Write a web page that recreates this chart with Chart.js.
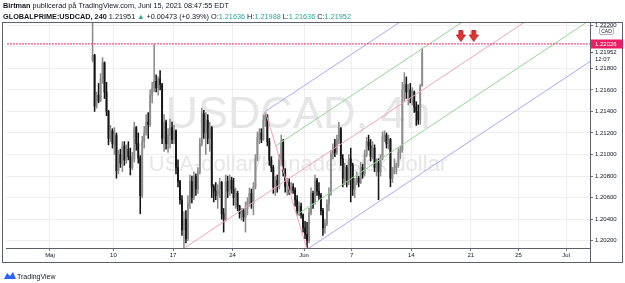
<!DOCTYPE html>
<html><head><meta charset="utf-8">
<script src="https://cdn.jsdelivr.net/npm/chart.js@4/dist/chart.umd.min.js"></script>
<style>html,body{margin:0;padding:0;background:#fff;}canvas{display:block;}</style>
</head><body>
<canvas id="c" width="625" height="283"></canvas>
<script>
// ---- DATA (USDCAD, 4h candles) ----
const opens=[1.2188,1.2192,1.2145,1.2155,1.2150,1.2170,1.2185,1.2158,1.2140,1.2115,
1.2122,1.2110,1.2118,1.2085,1.2100,1.2092,1.2108,1.2095,1.2105,1.2098,
1.2088,1.2096,1.2125,1.2110,1.2097,1.2062,1.2112,1.2120,1.2130,1.2128,
1.2155,1.2162,1.2168,1.2162,1.2170,1.2165,1.2115,1.2130,1.2110,1.2118,
1.2125,1.2114,1.2122,1.2088,1.2075,1.2058,1.2030,1.2040,1.2022,1.2055,
1.2075,1.2060,1.2080,1.2068,1.2084,1.2110,1.2138,1.2120,1.2132,1.2115,
1.2125,1.2070,1.2066,1.2062,1.2068,1.2074,1.2045,1.2040,1.2075,1.2066,
1.2076,1.2068,1.2060,1.2064,1.2052,1.2045,1.2048,1.2042,1.2050,1.2056,
1.2064,1.2055,1.2070,1.2096,1.2116,1.2120,1.2114,1.2132,1.2136,1.2112,
1.2095,1.2088,1.2070,1.2076,1.2070,1.2096,1.2112,1.2084,1.2070,1.2074,
1.2066,1.2070,1.2067,1.2058,1.2048,1.2052,1.2044,1.2032,1.2026,1.2020,
1.2046,1.2064,1.2055,1.2076,1.2066,1.2062,1.2048,1.2032,1.2036,1.2054,
1.2064,1.2100,1.2106,1.2102,1.2114,1.2124,1.2096,1.2078,1.2088,1.2075,
1.2096,1.2090,1.2068,1.2074,1.2078,1.2074,1.2088,1.2082,1.2100,1.2112,
1.2108,1.2098,1.2106,1.2088,1.2092,1.2084,1.2096,1.2116,1.2118,1.2110,
1.2114,1.2078,1.2084,1.2088,1.2090,1.2102,1.2104,1.2160,1.2165,1.2158,
1.2160,1.2152,1.2158,1.2144,1.2140,1.2132,1.21636];
const highs=[1.2240,1.2193,1.2158,1.2166,1.2175,1.2190,1.2186,1.2167,1.2141,1.2127,
1.2124,1.2125,1.2120,1.2104,1.2105,1.2112,1.2112,1.2109,1.2112,1.2106,
1.2102,1.2130,1.2126,1.2120,1.2099,1.2117,1.2126,1.2137,1.2139,1.2160,
1.2167,1.2202,1.2174,1.2172,1.2178,1.2166,1.2137,1.2132,1.2124,1.2133,
1.2130,1.2127,1.2123,1.2095,1.2076,1.2062,1.2047,1.2048,1.2062,1.2081,
1.2080,1.2084,1.2082,1.2088,1.2115,1.2143,1.2141,1.2139,1.2137,1.2130,
1.2126,1.2072,1.2074,1.2072,1.2078,1.2075,1.2050,1.2081,1.2080,1.2081,
1.2079,1.2078,1.2069,1.2066,1.2053,1.2050,1.2050,1.2056,1.2060,1.2069,
1.2068,1.2074,1.2100,1.2121,1.2124,1.2124,1.2137,1.2139,1.2137,1.2115,
1.2098,1.2090,1.2080,1.2081,1.2100,1.2118,1.2114,1.2087,1.2078,1.2078,
1.2074,1.2073,1.2069,1.2062,1.2056,1.2055,1.2045,1.2038,1.2037,1.2050,
1.2069,1.2066,1.2081,1.2078,1.2074,1.2064,1.2050,1.2040,1.2058,1.2069,
1.2104,1.2110,1.2114,1.2118,1.2130,1.2125,1.2100,1.2092,1.2090,1.2100,
1.2106,1.2092,1.2078,1.2084,1.2080,1.2093,1.2091,1.2104,1.2116,1.2118,
1.2114,1.2112,1.2109,1.2096,1.2096,1.2100,1.2121,1.2122,1.2120,1.2118,
1.2115,1.2088,1.2096,1.2092,1.2106,1.2108,1.2167,1.2176,1.2172,1.2165,
1.2166,1.2162,1.2159,1.2149,1.2146,1.2165,1.21988];
const lows=[1.2186,1.2140,1.2143,1.2148,1.2149,1.2166,1.2152,1.2136,1.2109,1.2112,
1.2106,1.2100,1.2078,1.2082,1.2088,1.2084,1.2090,1.2092,1.2095,1.2081,
1.2086,1.2093,1.2104,1.2092,1.2045,1.2060,1.2106,1.2118,1.2115,1.2126,
1.2148,1.2158,1.2158,1.2155,1.2160,1.2110,1.2103,1.2105,1.2102,1.2106,
1.2110,1.2110,1.2082,1.2070,1.2054,1.2025,1.2013,1.2018,1.2020,1.2050,
1.2055,1.2058,1.2062,1.2064,1.2082,1.2108,1.2115,1.2100,1.2110,1.2103,
1.2060,1.2056,1.2058,1.2050,1.2060,1.2040,1.2028,1.2038,1.2060,1.2062,
1.2064,1.2053,1.2050,1.2048,1.2041,1.2039,1.2038,1.2028,1.2044,1.2052,
1.2050,1.2044,1.2068,1.2094,1.2110,1.2111,1.2113,1.2126,1.2108,1.2090,
1.2084,1.2064,1.2062,1.2065,1.2068,1.2090,1.2080,1.2065,1.2062,1.2063,
1.2064,1.2064,1.2052,1.2044,1.2043,1.2041,1.2028,1.2022,1.2007,1.2018,
1.2044,1.2050,1.2054,1.2062,1.2058,1.2044,1.2025,1.2027,1.2034,1.2048,
1.2062,1.2096,1.2098,1.2100,1.2110,1.2090,1.2070,1.2072,1.2070,1.2072,
1.2056,1.2062,1.2060,1.2072,1.2070,1.2073,1.2078,1.2080,1.2098,1.2104,
1.2094,1.2096,1.2084,1.2080,1.2058,1.2080,1.2095,1.2112,1.2106,1.2105,
1.2070,1.2074,1.2082,1.2082,1.2088,1.2096,1.2102,1.2150,1.2152,1.2146,
1.2148,1.2146,1.2139,1.2127,1.2128,1.2128,1.21636];
const closes=[1.2192,1.2145,1.2155,1.2150,1.2170,1.2185,1.2158,1.2140,1.2115,1.2122,
1.2110,1.2118,1.2085,1.2100,1.2092,1.2108,1.2095,1.2105,1.2098,1.2088,
1.2096,1.2125,1.2110,1.2097,1.2062,1.2112,1.2120,1.2130,1.2128,1.2155,
1.2162,1.2168,1.2162,1.2170,1.2165,1.2115,1.2130,1.2110,1.2118,1.2125,
1.2114,1.2122,1.2088,1.2075,1.2058,1.2030,1.2040,1.2022,1.2055,1.2075,
1.2060,1.2080,1.2068,1.2084,1.2110,1.2138,1.2120,1.2132,1.2115,1.2125,
1.2070,1.2066,1.2062,1.2068,1.2074,1.2045,1.2040,1.2075,1.2066,1.2076,
1.2068,1.2060,1.2064,1.2052,1.2045,1.2048,1.2042,1.2050,1.2056,1.2064,
1.2055,1.2070,1.2096,1.2116,1.2120,1.2114,1.2132,1.2136,1.2112,1.2095,
1.2088,1.2070,1.2076,1.2070,1.2096,1.2112,1.2084,1.2070,1.2074,1.2066,
1.2070,1.2067,1.2058,1.2048,1.2052,1.2044,1.2032,1.2026,1.2020,1.2046,
1.2064,1.2055,1.2076,1.2066,1.2062,1.2048,1.2032,1.2036,1.2054,1.2064,
1.2100,1.2106,1.2102,1.2114,1.2124,1.2096,1.2078,1.2088,1.2075,1.2096,
1.2090,1.2068,1.2074,1.2078,1.2074,1.2088,1.2082,1.2100,1.2112,1.2108,
1.2098,1.2106,1.2088,1.2092,1.2084,1.2096,1.2116,1.2118,1.2110,1.2114,
1.2078,1.2084,1.2088,1.2090,1.2102,1.2104,1.2160,1.2165,1.2158,1.2160,
1.2152,1.2158,1.2144,1.2140,1.2132,1.21636,1.21952];
const firstBarDay=-1.75;          // trading days relative to 10 May (first visible bar)
const barsPerDay=6;               // 4h bars
const dateTickDays=[-5.33,0,5,10,16,20,25,30,34,38];
const dateTickLabels=['Maj','10','17','24','Jun','7','14','21','25','Jul'];
const priceTicks=[1.202,1.204,1.206,1.208,1.210,1.212,1.214,1.216,1.218,1.220,1.222];
const hLinePrice=1.22026;
const lastPrice=1.21952;
const pitchforkBars=[46,87,108];
const pitchforkPrices=[1.2013,1.2140,1.2012];
const arrowDays=[29.16,30.24];
const arrowPrices=[1.2210,1.2210];

// ---- build ----
const FAM='"Liberation Sans", Arial, sans-serif';
const dayOf=i=>firstBarDay+i/barsPerDay;
const up=opens.map((o,i)=>closes[i]>=o);
const candleCol=up.map(u=>u?'#8c8c8c':'#151515');
const wickData=opens.map((o,i)=>({x:dayOf(i),y:[lows[i],highs[i]]}));
const bodyData=opens.map((o,i)=>({x:dayOf(i),y:[Math.min(o,closes[i]),Math.max(o,closes[i])]}));

const A={x:dayOf(pitchforkBars[0]),y:pitchforkPrices[0]};
const B={x:dayOf(pitchforkBars[1]),y:pitchforkPrices[1]};
const C={x:dayOf(pitchforkBars[2]),y:pitchforkPrices[2]};
const M={x:(B.x+C.x)/2,y:(B.y+C.y)/2};
const V={x:M.x-A.x,y:M.y-A.y};
const mid=(P,Q)=>({x:(P.x+Q.x)/2,y:(P.y+Q.y)/2});
const ext=P=>[P,{x:60,y:P.y+(60-P.x)/V.x*V.y}];
const lineDs=(data,color,extra)=>Object.assign({type:'line',data,borderColor:color,borderWidth:1,pointRadius:0,fill:false,order:1,tension:0},extra||{});

// arrow point style
const arrowImg=document.createElement('canvas');
arrowImg.width=10;arrowImg.height=12;
(function(){const g=arrowImg.getContext('2d');
 g.fillStyle='#e8322f';g.strokeStyle='#a01818';g.lineWidth=0.8;
 g.beginPath();g.moveTo(3,0.5);g.lineTo(7,0.5);g.lineTo(7,5);g.lineTo(9.5,5);g.lineTo(5,11.5);g.lineTo(0.5,5);g.lineTo(3,5);g.closePath();g.fill();g.stroke();})();

const yMin=1.201326, yMax=1.222206;

const deco={
 id:'deco',
 beforeDatasetsDraw(ch){
  const {ctx,chartArea:a}=ch;
  ctx.save();
  ctx.beginPath();ctx.rect(a.left,a.top,a.right-a.left,a.bottom-a.top);ctx.clip();
  const cx=(a.left+a.right)/2;
  ctx.fillStyle='#e6e6e6';ctx.textAlign='center';ctx.textBaseline='alphabetic';
  ctx.font='45px '+FAM;ctx.fillText('USDCAD, 4h',cx,128);
  ctx.font='22px '+FAM;ctx.fillText('USA-dollar/Kanadensisk dollar',cx,171);
  ctx.restore();
 },
 afterDraw(ch){
  const {ctx,chartArea:a,scales:{y}}=ch;
  ctx.save();
  // frame
  ctx.strokeStyle='#5d606b';ctx.lineWidth=1;
  ctx.strokeRect(2.5,22.5,620,240);
  ctx.beginPath();ctx.moveTo(a.right+0.5,a.bottom);ctx.lineTo(a.right+0.5,263);ctx.stroke();
  // header
  const seg=(parts,x,yb)=>{parts.forEach(p=>{ctx.font=(p[1]?'bold ':'')+'7.3px '+FAM;ctx.fillStyle=p[2];ctx.fillText(p[0],x,yb);x+=ctx.measureText(p[0]).width;});};
  ctx.textAlign='left';ctx.textBaseline='alphabetic';
  seg([['Birtman',1,'#131722'],[' publicerad på TradingView.com, Juni 15, 2021 08:47:55 EDT',0,'#131722']],3,8);
  const teal='#26a69a';
  seg([['GLOBALPRIME:USDCAD, 240',1,'#131722'],[' 1.21951 ',0,'#131722'],['▲',0,teal],[' +0.00473 (+0.39%) ',0,'#131722'],
       ['O:',0,'#131722'],['1.21636',0,teal],[' H:',0,'#131722'],['1.21988',0,teal],[' L:',0,'#131722'],['1.21636',0,teal],[' C:',0,'#131722'],['1.21952',0,teal]],3,18.5);
  // horizontal line price label
  const yh=y.getPixelForValue(hLinePrice);
  ctx.fillStyle='#e91e63';ctx.fillRect(a.right+1,Math.round(yh)-4.5,32,9);
  ctx.fillStyle='#fff';ctx.font='6px '+FAM;ctx.textBaseline='middle';
  ctx.fillText(hLinePrice.toFixed(5),a.right+5,Math.round(yh));
  // last price label
  const yl=Math.round(y.getPixelForValue(lastPrice))+0.5;
  ctx.strokeStyle='#555';ctx.beginPath();ctx.moveTo(a.right,yl);ctx.lineTo(a.right+3,yl);ctx.stroke();
  ctx.fillStyle='#131722';ctx.fillText(lastPrice.toFixed(5),a.right+5,yl);
  ctx.fillText('12:07',a.right+5,yl+7);
  // currency box
  ctx.fillStyle='#fff';ctx.strokeStyle='#b2b5be';
  ctx.beginPath();ctx.roundRect(599.5,27.5,14,7,1.5);ctx.fill();ctx.stroke();
  ctx.fillStyle='#131722';ctx.font='5px '+FAM;ctx.textAlign='center';ctx.fillText('CAD',606.5,31.2);
  // footer logo
  ctx.fillStyle='#2962ff';
  ctx.beginPath();ctx.moveTo(4,279);ctx.lineTo(7,273);ctx.lineTo(10,276);ctx.lineTo(13,272);ctx.lineTo(16,279);ctx.closePath();ctx.fill();
  ctx.fillStyle='#131722';ctx.font='7px '+FAM;ctx.textAlign='left';ctx.textBaseline='alphabetic';
  ctx.fillText('TradingView',17,279);
  ctx.restore();
 }
};

new Chart(document.getElementById('c'),{
 type:'bar',
 data:{datasets:[
  {type:'scatter',data:arrowDays.map((d,i)=>({x:d,y:arrowPrices[i]})),pointStyle:arrowImg,pointRadius:5,order:0},
  lineDs([{x:-20,y:hLinePrice},{x:60,y:hLinePrice}],'#e91e63',{borderDash:[1.5,1.5],borderWidth:1.3}),
  lineDs(ext(A),'#f3a2b8'),
  lineDs([B,C],'#f3a2b8'),
  lineDs(ext(B),'#a9a9f5'),
  lineDs(ext(C),'#a9a9f5'),
  lineDs(ext(mid(B,M)),'#94d494'),
  lineDs(ext(mid(C,M)),'#94d494'),
  {data:bodyData,backgroundColor:candleCol,borderWidth:0,barThickness:1.2,grouped:false,order:5},
  {data:wickData,backgroundColor:candleCol,borderWidth:0,barThickness:0.9,grouped:false,order:6}
 ]},
 plugins:[deco],
 options:{
  responsive:false,animation:false,devicePixelRatio:1,
  layout:{padding:{left:3,top:23,right:2,bottom:20}},
  plugins:{legend:{display:false},tooltip:{enabled:false}},
  scales:{
   x:{type:'linear',min:-9.02,max:40.0,offset:false,
     afterBuildTicks:s=>{s.ticks=dateTickDays.map(v=>({value:v}));},
     afterFit:s=>{s.height=15;},
     ticks:{autoSkip:false,maxRotation:0,minRotation:0,padding:1,font:{size:6,family:FAM},color:'#131722',
       callback:(v,i)=>dateTickLabels[i]},
     grid:{color:'#eeeeee',offset:false,tickLength:3,tickColor:'#777'},
     border:{color:'#5d606b'}},
   y:{type:'linear',position:'right',min:yMin,max:yMax,
     afterBuildTicks:s=>{s.ticks=priceTicks.map(v=>({value:v}));},
     afterFit:s=>{s.width=33;},
     ticks:{padding:2,font:{size:6,family:FAM},color:'#131722',callback:v=>Number(v).toFixed(5)},
     grid:{color:'#eeeeee',tickLength:3,tickColor:'#777'},
     border:{color:'#5d606b'}}
  }
 }
});
</script>
</body></html>
